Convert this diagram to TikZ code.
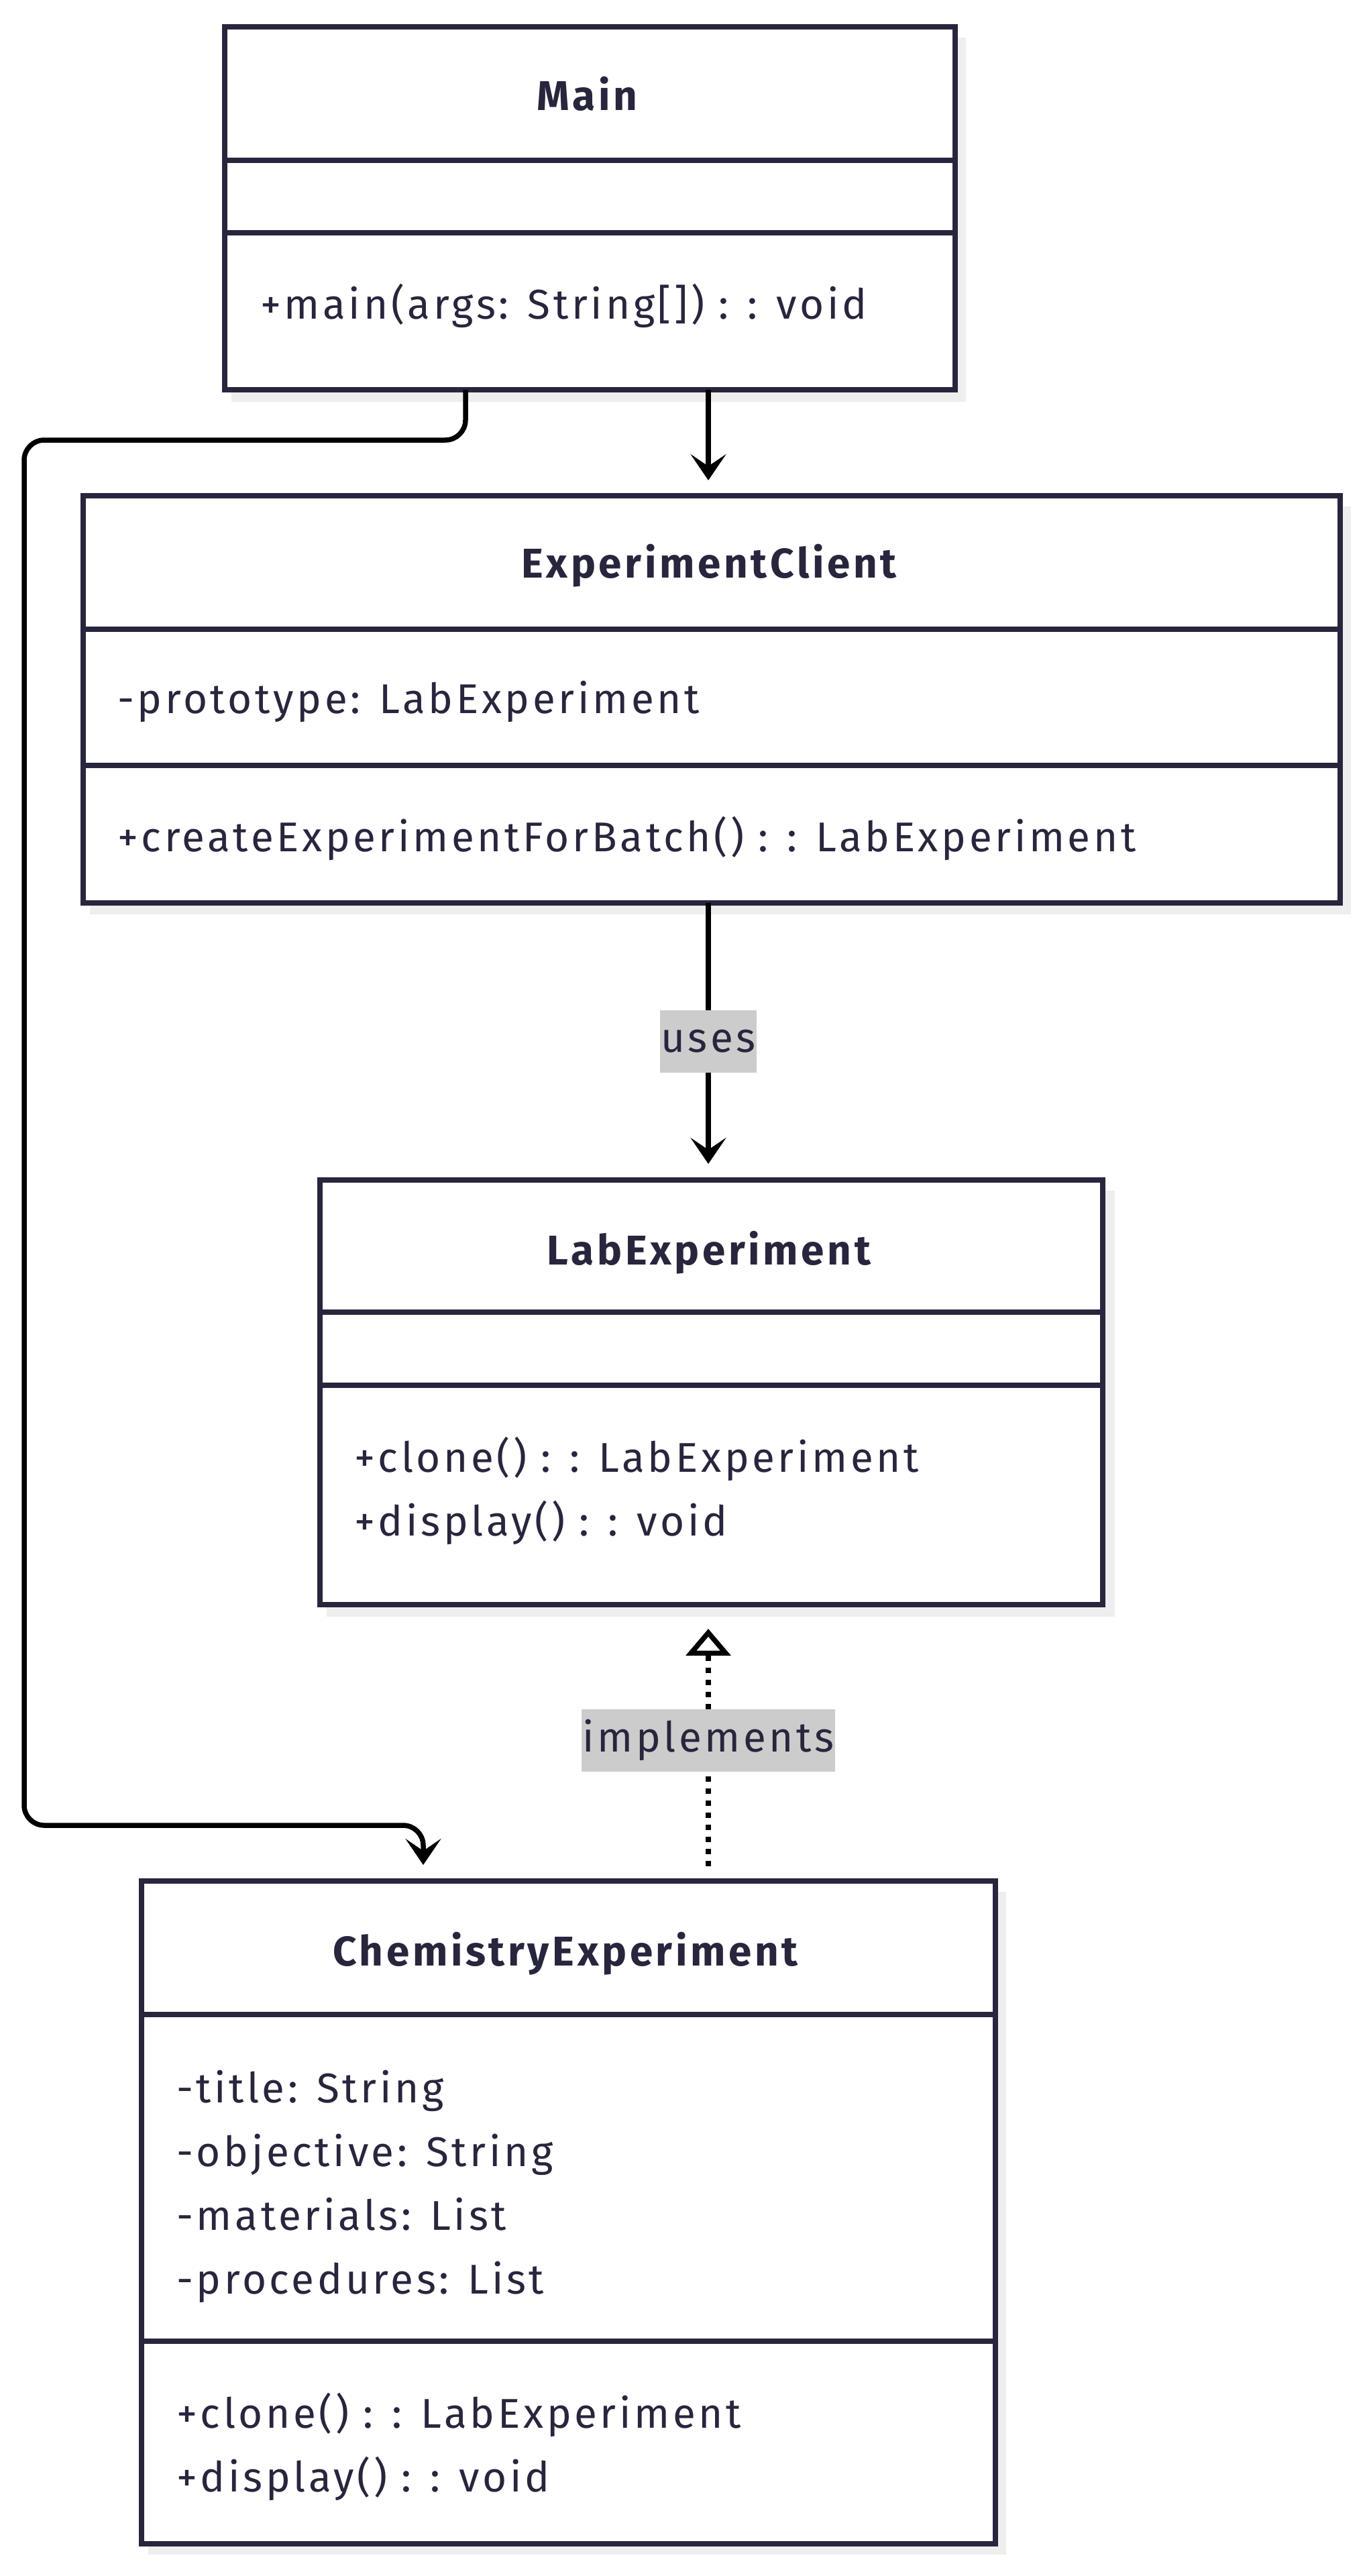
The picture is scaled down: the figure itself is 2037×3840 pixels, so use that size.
\documentclass[tikz,border=0pt]{standalone}
\usepackage{fontspec}
\setmainfont{Fira Sans}
\newfontfamily\umlfont[LetterSpace=7.5]{Fira Sans}
\usetikzlibrary{arrows.meta}
\definecolor{ink}{HTML}{28263D}
\definecolor{shade}{HTML}{EEEEEE}
\definecolor{lblbg}{HTML}{CCCCCC}
\tikzset{
  classbox/.style={draw=ink, line width=8pt, fill=white, inner sep=0pt, anchor=north west},
  shadowbox/.style={fill=shade, draw=none},
  divider/.style={draw=ink, line width=7.5pt},
  ttl/.style={anchor=base, text=ink, inner sep=0pt, font=\umlfont\fontsize{62}{72}\selectfont\bfseries},
  mem/.style={anchor=base west, text=ink, inner sep=0pt, font=\umlfont\fontsize{62}{72}\selectfont},
  conn/.style={draw=black, line width=7.5pt},
  assoc/.style={conn, -{Stealth[length=39pt, width=53pt, inset=18pt]}},
  realize/.style={conn, dash pattern=on 8pt off 10pt, -{Triangle[open, length=40pt, width=66pt, line width=7.5pt, fill=white]}},
  lab/.style={fill=lblbg, text=ink, inner xsep=1pt, inner ysep=0pt, minimum height=93pt, font=\umlfont\fontsize{62}{72}\selectfont},
}
\begin{document}
\begin{tikzpicture}[x=1pt, y=-1pt]
\useasboundingbox (0,0) rectangle (2037,3840);

% ---------- Main ----------
\fill[shadowbox] (345,56) rectangle (1440,599);
\node[classbox, minimum width=1089pt, minimum height=541pt] (main) at (331,36) {};
\draw[divider] (331,239) -- (1420,239);
\draw[divider] (331,347) -- (1420,347);
\node[ttl] (mainT) at (875,165) {Main};
\node[mem] (mainM1) at (388,475) {+main(args: String[]) : : void};

% ---------- ExperimentClient ----------
\fill[shadowbox] (134,755) rectangle (2014,1363);
\node[classbox, minimum width=1874pt, minimum height=607pt] (ec) at (120,735) {};
\draw[divider] (120,938) -- (1994,938);
\draw[divider] (120,1141) -- (1994,1141);
\node[ttl] (ecT) at (1057,861) {ExperimentClient};
\node[mem] (ecA1) at (175,1063) {-prototype: LabExperiment};
\node[mem] (ecM1) at (175,1269) {+createExperimentForBatch() : : LabExperiment};

% ---------- LabExperiment ----------
\fill[shadowbox] (487,1775) rectangle (1662,2410);
\node[classbox, minimum width=1167pt, minimum height=633pt] (le) at (473,1755) {};
\draw[divider] (473,1956) -- (1640,1956);
\draw[divider] (473,2065) -- (1640,2065);
\node[ttl] (leT) at (1057,1885) {LabExperiment};
\node[mem] (leM1) at (528,2194) {+clone() : : LabExperiment};
\node[mem] (leM2) at (528,2289) {+display() : : void};

% ---------- ChemistryExperiment ----------
\fill[shadowbox] (221,2820) rectangle (1500,3808);
\node[classbox, minimum width=1273pt, minimum height=988pt] (ce) at (207,2800) {};
\draw[divider] (207,3003) -- (1480,3003);
\draw[divider] (207,3490) -- (1480,3490);
\node[ttl] (ceT) at (843,2930) {ChemistryExperiment};
\node[mem] (ceA1) at (263,3134) {-title: String};
\node[mem] (ceA2) at (263,3229) {-objective: String};
\node[mem] (ceA3) at (263,3324) {-materials: List};
\node[mem] (ceA4) at (263,3419) {-procedures: List};
\node[mem] (ceM1) at (263,3619) {+clone() : : LabExperiment};
\node[mem] (ceM2) at (263,3714) {+display() : : void};

% ---------- connectors ----------
\coordinate (mainOutA) at (694,581);
\coordinate (mainOutB) at (1056,581);
\coordinate (ecIn) at (1056,716);
\coordinate (ecOut) at (1056,1346);
\coordinate (leIn) at (1056,1735);
\coordinate (ceOutR) at (1056,2782);
\coordinate (leUp) at (1056,2428);
\coordinate (ceIn) at (631,2780);

\draw[assoc] (mainOutB) -- (ecIn);
\draw[assoc, rounded corners=30pt] (mainOutA) -- (694,656) -- (36,656) -- (36,2721) -- (631,2721) -- (ceIn);
\draw[assoc] (ecOut) -- (leIn)
  node[lab, pos=0.53] (usesL) {uses};
\draw[realize] (ceOutR) -- (leUp)
  node[lab, pos=0.53] (implL) {implements};
\end{tikzpicture}
\end{document}
